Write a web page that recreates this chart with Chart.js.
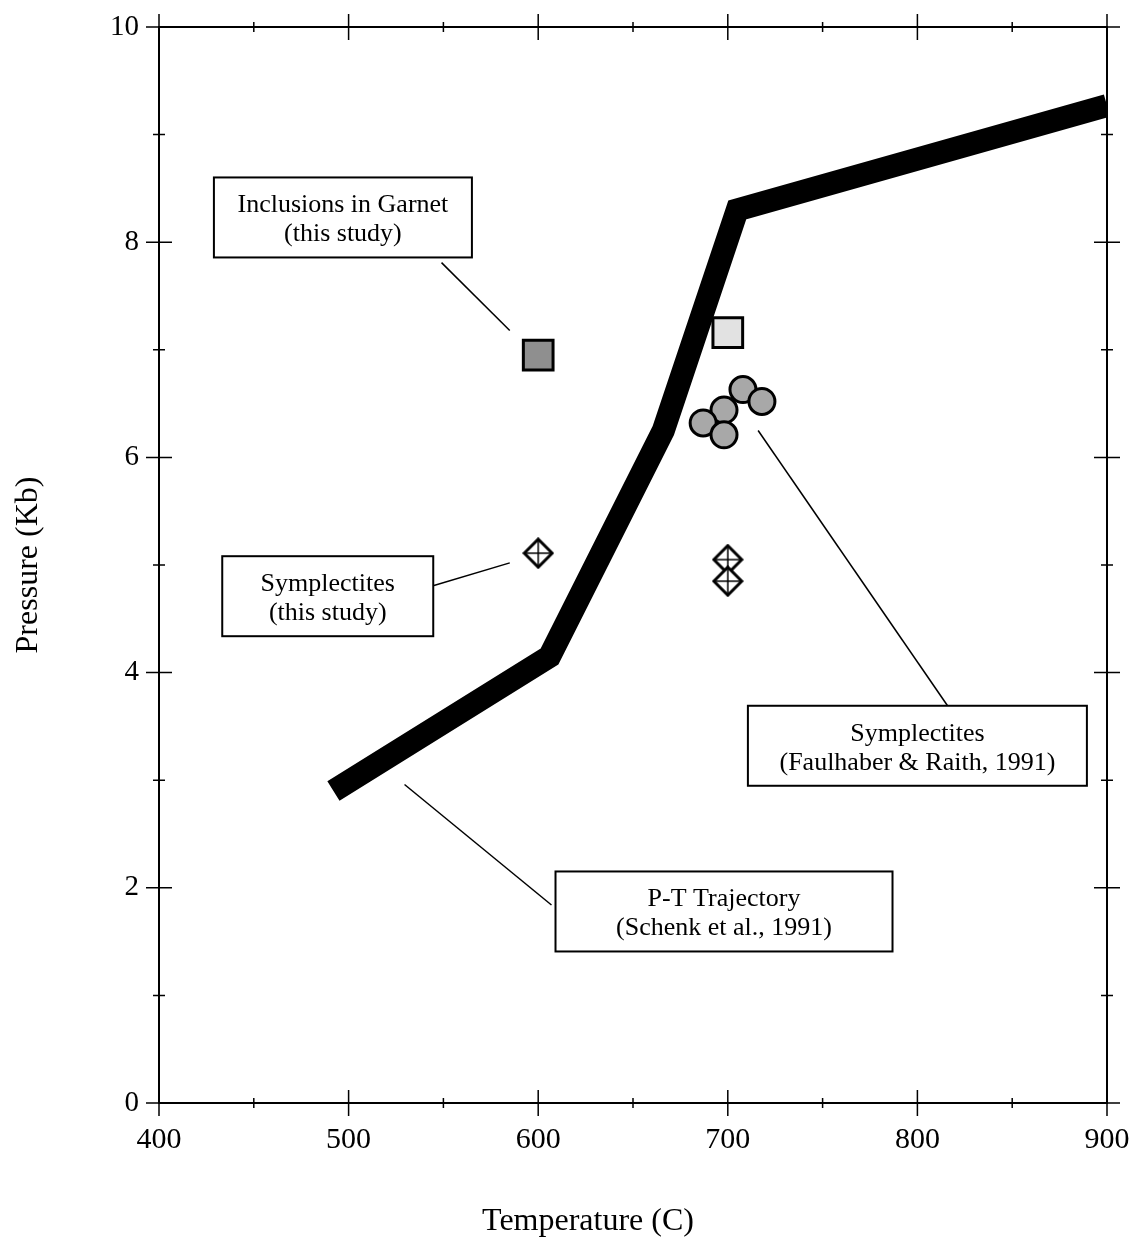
<!DOCTYPE html>
<html lang="en">
<head>
  <meta charset="UTF-8">
  <title>P-T Trajectory</title>
  <script src="https://cdn.jsdelivr.net/npm/chart.js"></script>
  <style>
    body { margin: 0; background: #fff; }
  </style>
</head>
<body>
<canvas id="ptChart" width="1140" height="1247"></canvas>

<script>
  // P-T trajectory (Schenk et al., 1991)
  var pathT = [492, 606, 666, 705, 900];
  var pathP = [2.9, 4.15, 6.25, 8.3, 9.27];

  // inclusions in garnet (this study)
  var inclT = [600];
  var inclP = [6.95];

  // inclusions, lighter square
  var incl2T = [700];
  var incl2P = [7.16];

  // symplectites (Faulhaber & Raith, 1991)
  var faulT = [708, 718, 698, 687, 698];
  var faulP = [6.63, 6.52, 6.44, 6.32, 6.21];

  // symplectites (this study)
  var sympT = [600, 700, 700];
  var sympP = [5.11, 5.05, 4.85];

  var xTicks = [400, 500, 600, 700, 800, 900];
  var yTicks = [0, 2, 4, 6, 8, 10];

  // callout boxes: text, box centre (T, P), leader line from (T, P) to (T, P)
  var boxText = [
    ['Inclusions in Garnet', '(this study)'],
    ['Symplectites', '(this study)'],
    ['Symplectites', '(Faulhaber & Raith, 1991)'],
    ['P-T Trajectory', '(Schenk et al., 1991)']
  ];
  var boxT = [497, 489, 800, 698];
  var boxP = [8.23, 4.71, 3.32, 1.78];
  var leadFrom = [[549, 7.81], [545, 4.81], [716, 6.25], [529.5, 2.96]];
  var leadTo = [[585, 7.18], [585, 5.02], [816, 3.69], [607, 1.84]];

  function toXY(xs, ys) {
    return xs.map(function(x, i) { return { x: x, y: ys[i] }; });
  }

  // diamond with a cross inside
  function diamondIcon() {
    var c = document.createElement('canvas');
    c.width = 32; c.height = 32;
    var g = c.getContext('2d');
    g.fillStyle = '#fff';
    g.strokeStyle = '#000';
    g.lineWidth = 3;
    g.beginPath();
    g.moveTo(16, 2); g.lineTo(30, 16); g.lineTo(16, 30); g.lineTo(2, 16); g.closePath();
    g.fill(); g.stroke();
    g.lineWidth = 1.5;
    g.beginPath();
    g.moveTo(4, 16); g.lineTo(28, 16);
    g.moveTo(16, 4); g.lineTo(16, 28);
    g.stroke();
    return c;
  }

  var serif = 'Liberation Serif, Times New Roman, serif';
  var boxW = [258, 211, 339, 337];

  var framePlugin = {
    id: 'frame',
    afterDatasetsDraw: function(chart) {
      var ctx = chart.ctx, a = chart.chartArea;
      var xs = chart.scales.x, ys = chart.scales.y;
      ctx.save();
      ctx.strokeStyle = '#000';
      ctx.lineWidth = 2;
      ctx.strokeRect(a.left, a.top, a.right - a.left, a.bottom - a.top);
      ctx.lineWidth = 1.5;
      ctx.beginPath();
      for (var t = 400; t <= 900; t += 50) {
        var px = xs.getPixelForValue(t);
        var len = (t % 100 === 0) ? 13 : 5;
        ctx.moveTo(px, a.top - len); ctx.lineTo(px, a.top + len);
        ctx.moveTo(px, a.bottom - len); ctx.lineTo(px, a.bottom + len);
      }
      for (var p = 0; p <= 10; p += 1) {
        var py = ys.getPixelForValue(p);
        var l2 = (p % 2 === 0) ? 13 : 6;
        ctx.moveTo(a.left - l2, py); ctx.lineTo(a.left + l2, py);
        ctx.moveTo(a.right - l2, py); ctx.lineTo(a.right + l2, py);
      }
      ctx.stroke();

      // x axis title, centred as in the original page layout
      ctx.fillStyle = '#000';
      ctx.font = '32px ' + serif;
      ctx.textAlign = 'center';
      ctx.textBaseline = 'middle';
      ctx.fillText('Temperature (C)', 588, 1222);

      // callouts
      ctx.font = '26px ' + serif;
      for (var i = 0; i < boxText.length; i++) {
        ctx.lineWidth = 1.5;
        ctx.beginPath();
        ctx.moveTo(xs.getPixelForValue(leadFrom[i][0]), ys.getPixelForValue(leadFrom[i][1]));
        ctx.lineTo(xs.getPixelForValue(leadTo[i][0]), ys.getPixelForValue(leadTo[i][1]));
        ctx.stroke();

        var cx = xs.getPixelForValue(boxT[i]), cy = ys.getPixelForValue(boxP[i]);
        var w = boxW[i], h = 80;
        ctx.fillStyle = '#fff';
        ctx.fillRect(cx - w / 2, cy - h / 2, w, h);
        ctx.lineWidth = 2;
        ctx.strokeRect(cx - w / 2, cy - h / 2, w, h);
        ctx.fillStyle = '#000';
        ctx.fillText(boxText[i][0], cx, cy - 12);
        ctx.fillText(boxText[i][1], cx, cy + 17);
      }
      ctx.restore();
    }
  };

  new Chart(document.getElementById('ptChart'), {
    type: 'scatter',
    data: {
      datasets: [{
        type: 'line',
        data: toXY(pathT, pathP),
        borderColor: '#000',
        borderWidth: 23,
        borderJoinStyle: 'miter',
        pointRadius: 0,
        tension: 0
      }, {
        data: toXY(inclT, inclP),
        pointStyle: 'rect',
        pointRadius: 21,
        backgroundColor: '#8f8f8f',
        borderColor: '#000',
        borderWidth: 3
      }, {
        data: toXY(incl2T, incl2P),
        pointStyle: 'rect',
        pointRadius: 21,
        backgroundColor: '#e2e2e2',
        borderColor: '#000',
        borderWidth: 3
      }, {
        data: toXY(faulT, faulP),
        pointStyle: 'circle',
        pointRadius: 13,
        backgroundColor: '#a8a8a8',
        borderColor: '#000',
        borderWidth: 3
      }, {
        data: toXY(sympT, sympP),
        pointStyle: diamondIcon()
      }]
    },
    options: {
      responsive: false,
      animation: false,
      layout: { padding: { top: 27, right: 33, left: 0, bottom: 0 } },
      plugins: { legend: { display: false }, tooltip: { enabled: false } },
      scales: {
        x: {
          type: 'linear',
          min: 400,
          max: 900,
          afterBuildTicks: function(s) { s.ticks = xTicks.map(function(v) { return { value: v }; }); },
          afterFit: function(s) { s.height = 144; s.paddingLeft = 0; s.paddingRight = 0; },
          grid: { display: false, drawTicks: false },
          border: { display: false },
          ticks: { color: '#000', padding: 19, font: { family: serif, size: 30 } }
        },
        y: {
          min: 0,
          max: 10,
          afterBuildTicks: function(s) { s.ticks = yTicks.map(function(v) { return { value: v }; }); },
          afterFit: function(s) { s.width = 159; s.paddingTop = 0; s.paddingBottom = 0; },
          grid: { display: false, drawTicks: false },
          border: { display: false },
          ticks: { color: '#000', padding: 20, font: { family: serif, size: 29 } },
          title: {
            display: true,
            text: 'Pressure (Kb)',
            color: '#000',
            font: { family: serif, size: 32 },
            padding: { top: 9, bottom: 0 }
          }
        }
      }
    },
    plugins: [framePlugin]
  });
</script>
</body>
</html>
